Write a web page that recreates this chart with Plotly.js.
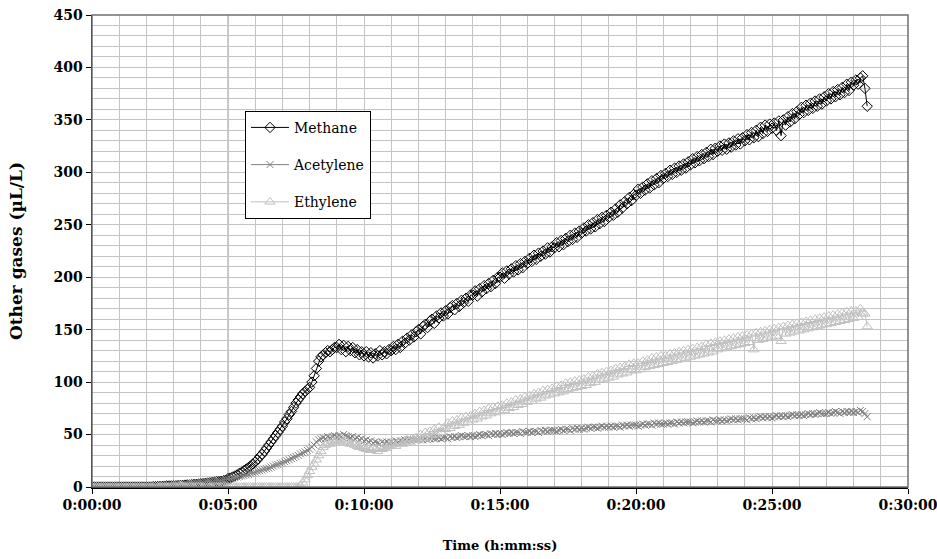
<!DOCTYPE html>
<html>
<head>
<meta charset="utf-8">
<script src="https://cdn.plot.ly/plotly-3.0.1.min.js"></script>
<style>html,body{margin:0;padding:0;background:#fff;}#chart{width:937px;height:559px;}</style>
</head>
<body>
<div id="chart"></div>
<script>
// Sampling interval of the gas readings (seconds); each row below = one minute (12 readings)
const sampleSeconds = 5;

// Methane (µL/L)
const methane = [
  0,0,0,0,0,0,0,0,0,0,0,0,
  0,0,0,0,0,0,0,0,0,0,0,0,
  0,0,0,0.3,0.3,0.5,0.5,0.5,0.8,1,1,1,
  1,1.2,1.3,1.5,1.5,1.8,2,2,2.2,2.5,2.5,2.8,
  3,3.2,3.5,3.8,4,4.3,4.5,5,5.2,5.5,6,6.5,
  8,8.5,9.5,10.5,11.5,13,14,15.5,17,18.5,20,22,
  24,26,29,31,34,37,40,43,46,49,52,55,
  58,62,65,69,72,76,80,83,86,89,91,93,
  95,100,106,113,120,124,126,128,130,129,131,133,
  133,136,131,135,129,134,130,133,128,131,126,129,
  125,129,124,128,123,127,125,130,126,129,127,131,
  130,134,131,136,133,139,137,142,140,145,143,148,
  150,146,153,155,152,158,160,156,163,161,166,163,
  168,165,171,173,169,175,172,178,176,180,177,183,
  183,187,182,189,186,192,189,194,191,197,194,200,
  200,204,199,206,203,208,205,211,207,213,209,215,
  213,218,215,221,217,223,220,225,222,228,224,229,
  228,233,229,235,231,237,234,240,236,242,238,244,
  242,247,244,250,246,252,248,255,251,257,253,259,
  257,262,259,265,262,269,266,272,270,276,273,279,
  278,284,280,286,283,289,285,292,288,294,290,297,
  294,299,296,302,298,304,300,306,302,308,304,310,
  307,313,309,315,311,317,313,319,315,322,317,323,
  320,325,321,327,322,328,324,330,326,332,327,333,
  330,336,331,338,333,340,334,343,337,345,339,346,
  342,347,340,349,335,350,345,353,348,356,351,358,
  355,362,357,364,359,366,361,368,363,370,365,372,
  368,375,370,377,372,379,374,381,376,384,378,386,
  383,388,384,390,392,380,363
];

// Acetylene (µL/L)
const acetylene = [
  0,0,0,0,0,0,0,0,0,0,0,0,
  0,0,0,0,0,0,0,0,0,0,0,0,
  0,0,0,0.2,0.4,0.5,0.6,0.8,1,1,1.2,1.4,
  1.6,1.8,2,2,2.2,2.5,2.6,2.8,3,3.2,3.4,3.6,
  3.8,4,4.3,4.5,4.8,5,5.3,5.6,6,6.3,6.7,7,
  7.5,8,8.5,9,9.5,10,10.5,11,11.5,12,13,13.5,
  14,15,15.5,16,17,17.5,18,19,20,21,21.5,22.5,
  23,24,25,26,27,28,29,30,31.5,32.5,33.5,35,
  36,38,40,43,45,46,47,46,48,47,48,49,
  48,49,48,50,49,48,47,48,46,47,45,46,
  44,45,43,44,42,43,42,41,43,42,43,42,
  43,42,44,43,44,43,45,44,45,44,45,45,
  45,46,45,46,45,46,47,46,46,47,46,47,
  47,46,48,47,48,47,48,49,48,48,49,48,
  49,48,49,50,49,50,50,49,51,50,51,50,
  51,50,51,52,51,52,51,52,52,51,53,52,
  52,53,52,53,53,52,54,53,54,53,54,54,
  54,53,54,55,54,55,55,54,56,55,56,55,
  56,55,56,57,56,57,57,56,57,58,57,58,
  57,58,57,58,58,57,59,58,59,58,59,59,
  59,58,59,60,59,60,60,59,61,60,61,60,
  60,61,60,61,61,60,62,61,62,61,62,62,
  62,61,62,63,62,63,62,63,63,62,64,63,
  63,64,63,64,63,64,65,64,65,64,65,65,
  65,64,66,65,66,65,66,67,66,67,66,67,
  66,67,68,67,68,67,68,67,68,69,68,69,
  68,69,68,69,70,69,70,69,70,71,70,70,
  70,71,70,71,72,71,70,72,71,72,71,72,
  71,72,71,73,72,70,67
];

// Ethylene (µL/L)
const ethylene = [
  0,0,0,0,0,0,0,0,0,0,0,0,
  0,0,0,0,0,0,0,0,0,0,0,0,
  0,0,0,0,0,0,0,0,0,0,0,0,
  0,0,0,0,0,0,0,0,0,0,0,0,
  0,0,0,0,0,0,0,0,0,0,0,0,
  0,0,0,0,0,0,0,0,0,0,0,0,
  0,0,0,0,0,0,0,0,0,0,0,0,
  0,0,0,0,0,0,0,0,1,4,7,11,
  15,19,22,26,30,34,38,40,42,41,44,43,
  45,44,46,43,44,42,41,42,40,39,38,39,
  37,36,38,35,37,36,34,37,36,38,37,39,
  40,41,39,42,43,41,44,45,43,46,45,47,
  45,50,46,52,47,53,49,55,50,57,52,56,
  55,61,56,63,58,64,59,66,61,67,62,68,
  64,70,65,72,67,73,68,75,70,76,71,77,
  72,78,73,80,75,81,76,83,78,84,79,86,
  81,87,82,89,84,90,85,92,87,93,88,94,
  89,96,90,97,91,99,93,100,94,101,95,102,
  96,103,97,105,99,106,100,108,102,109,103,110,
  104,111,105,113,107,114,108,115,109,117,111,118,
  111,118,112,120,114,121,115,123,116,124,117,125,
  118,125,119,127,120,128,121,129,122,130,123,131,
  124,132,125,133,126,134,127,136,128,137,129,138,
  131,139,132,140,133,141,134,142,135,143,136,144,
  137,145,138,146,131,147,140,148,141,149,142,150,
  143,151,144,152,139,153,146,154,147,155,148,156,
  149,157,150,158,151,159,152,160,153,161,154,162,
  155,163,156,164,157,165,158,166,159,167,160,168,
  161,168,162,170,166,165,153
];

// X axis ticks (minutes) and their labels
const tickMinutes = [0, 5, 10, 15, 20, 25, 30];
const tickLabels = ["0:00:00", "0:05:00", "0:10:00", "0:15:00", "0:20:00", "0:25:00", "0:30:00"];

const timesFor = arr => arr.map((_, i) => i * sampleSeconds / 60);

const gridColor = '#c4c4c4';
const tickFont = {family: 'DejaVu Serif', size: 14, color: '#000', weight: 'bold'};

const traces = [
  {
    x: timesFor(methane), y: methane, name: 'Methane', type: 'scatter', mode: 'lines+markers',
    line: {color: '#000000', width: 1},
    marker: {symbol: 'diamond-open', size: 8, color: '#000000', line: {width: 1, color: '#000000'}},
    legendgroup: 'a'
  },
  {
    x: timesFor(acetylene), y: acetylene, name: 'Acetylene', type: 'scatter', mode: 'lines+markers',
    line: {color: '#808080', width: 1},
    marker: {symbol: 'x-thin-open', size: 7, color: '#808080', line: {width: 1, color: '#808080'}},
    legendgroup: 'b'
  },
  {
    x: timesFor(ethylene), y: ethylene, name: 'Ethylene', type: 'scatter', mode: 'lines+markers',
    line: {color: '#c0c0c0', width: 1},
    marker: {symbol: 'triangle-up-open', size: 9, color: '#c0c0c0', line: {width: 1, color: '#c0c0c0'}},
    legendgroup: 'c'
  }
];

const layout = {
  width: 937, height: 559,
  margin: {l: 92, r: 29, t: 15, b: 72},
  paper_bgcolor: '#ffffff', plot_bgcolor: '#ffffff',
  showlegend: true,
  hovermode: false,
  xaxis: {
    range: [0, 30], tickvals: tickMinutes, ticktext: tickLabels,
    ticklabeloverflow: 'allow',
    showgrid: true, gridcolor: gridColor, gridwidth: 1,
    minor: {dtick: 1, showgrid: true, gridcolor: gridColor, gridwidth: 1, ticks: ''},
    showline: true, linecolor: '#000', linewidth: 1.5,
    ticks: 'outside', ticklen: 5, tickcolor: '#000',
    zeroline: false,
    tickfont: tickFont,
    title: {text: 'Time (h:mm:ss)', font: {family: 'DejaVu Serif', size: 13, color: '#000', weight: 'bold'}, standoff: 28}
  },
  yaxis: {
    range: [0, 450], dtick: 50,
    ticklabeloverflow: 'allow',
    showgrid: true, gridcolor: gridColor, gridwidth: 1,
    minor: {dtick: 10, showgrid: true, gridcolor: gridColor, gridwidth: 1, ticks: ''},
    showline: true, linecolor: '#000', linewidth: 1.5,
    ticks: 'outside', ticklen: 5, tickcolor: '#000',
    zeroline: false,
    tickfont: tickFont,
    title: {text: 'Other gases (µL/L)', font: {family: 'DejaVu Serif', size: 17, color: '#000', weight: 'bold'}, standoff: 26}
  },
  legend: {
    x: 0.1875, y: 0.797, xanchor: 'left', yanchor: 'top',
    bgcolor: '#ffffff', bordercolor: '#000', borderwidth: 1,
    font: {family: 'DejaVu Serif', size: 14, color: '#000'},
    tracegroupgap: 16,
    itemwidth: 38
  },
  shapes: [
    {type: 'line', xref: 'x', yref: 'paper', x0: 5, x1: 5, y0: 0, y1: 1, line: {color: '#9a9a9a', width: 1}, layer: 'below'},
    {type: 'rect', xref: 'paper', yref: 'paper', x0: 0, x1: 1, y0: 0, y1: 1, line: {color: '#707070', width: 1.5}, layer: 'above'}
  ]
};

Plotly.newPlot('chart', traces, layout, {staticPlot: true, displayModeBar: false});
</script>
</body>
</html>
